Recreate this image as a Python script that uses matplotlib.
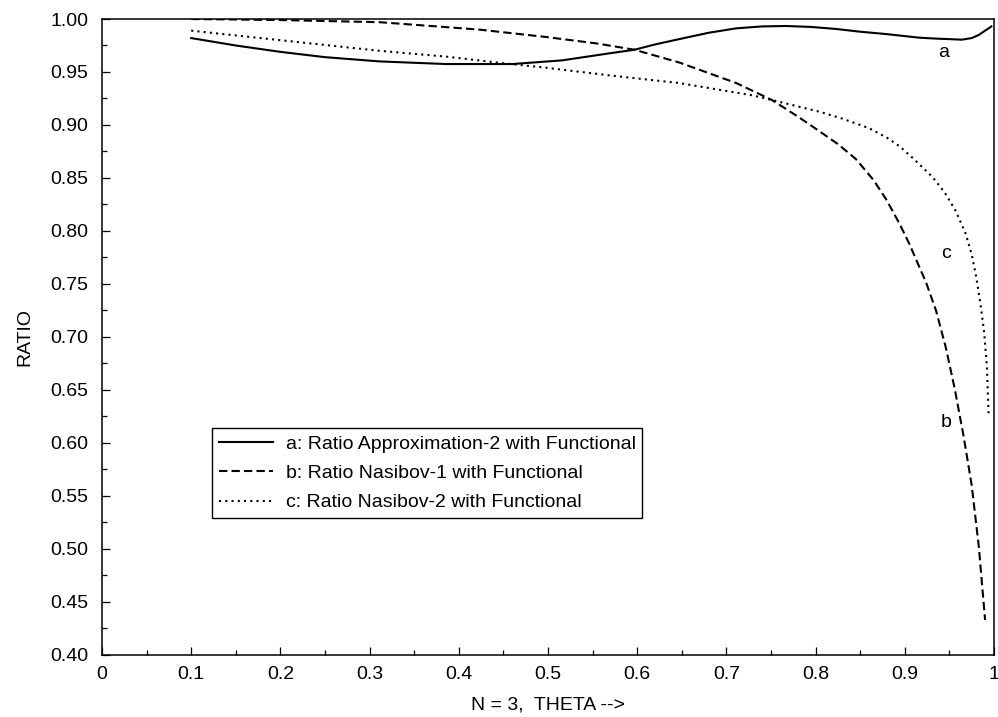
import numpy as np
from matplotlib import pyplot as plt
from matplotlib.ticker import MultipleLocator

plt.rcParams['font.family'] = ['Liberation Sans', 'DejaVu Sans']
plt.rcParams['font.size'] = 14

# curve a: Approximation-2 / Functional
a_x = [0.1, 0.15, 0.2, 0.25, 0.311, 0.386, 0.46, 0.516, 0.572, 0.597, 0.62, 0.647, 0.68,
       0.711, 0.74, 0.767, 0.795, 0.823, 0.85, 0.879, 0.916, 0.935, 0.95, 0.964, 0.975,
       0.983, 0.99, 0.995, 0.997]
a_y = [0.982, 0.975, 0.969, 0.964, 0.960, 0.9575, 0.9575, 0.961, 0.968, 0.971, 0.976, 0.981, 0.987,
       0.9912, 0.9930, 0.9934, 0.9925, 0.9906, 0.988, 0.9858, 0.9824, 0.9815, 0.981, 0.9805, 0.982,
       0.985, 0.989, 0.9918, 0.993]

# curve b: Nasibov-1 / Functional
b_x = [0.1, 0.2, 0.311, 0.423, 0.498, 0.554, 0.597, 0.647, 0.711, 0.751, 0.78, 0.801, 0.825,
       0.845, 0.865, 0.879, 0.894, 0.905, 0.924, 0.935, 0.946, 0.956, 0.966, 0.975, 0.983, 0.990]
b_y = [1.000, 0.999, 0.997, 0.990, 0.983, 0.977, 0.971, 0.959, 0.9396, 0.9236, 0.908, 0.896, 0.882,
       0.868, 0.848, 0.830, 0.807, 0.788, 0.751, 0.725, 0.690, 0.651, 0.606, 0.560, 0.502, 0.433]

# curve c: Nasibov-2 / Functional
c_x = [0.1, 0.2, 0.311, 0.386, 0.442, 0.498, 0.572, 0.647, 0.729, 0.751, 0.804, 0.83, 0.86,
       0.88, 0.894, 0.91, 0.931, 0.945, 0.957, 0.968, 0.975, 0.980, 0.985, 0.989, 0.992, 0.994]
c_y = [0.989, 0.980, 0.970, 0.9645, 0.959, 0.954, 0.9465, 0.9396, 0.928, 0.9236, 0.9126, 0.906, 0.897,
       0.888, 0.880, 0.868, 0.851, 0.836, 0.819, 0.798, 0.778, 0.757, 0.730, 0.704, 0.672, 0.626]

labels = ['a: Ratio Approximation-2 with Functional',
          'b: Ratio Nasibov-1 with Functional',
          'c: Ratio Nasibov-2 with Functional']

xticks = [0, 0.1, 0.2, 0.3, 0.4, 0.5, 0.6, 0.7, 0.8, 0.9, 1]
xtick_labels = ['0', '0.1', '0.2', '0.3', '0.4', '0.5', '0.6', '0.7', '0.8', '0.9', '1']
yticks = np.arange(0.40, 1.001, 0.05)

fig = plt.figure(figsize=(9.98, 7.17), dpi=100)
ax = fig.add_axes([0.1022, 0.0865, 0.8938, 0.887])

lw = 1.5
ax.plot(a_x, a_y, color='black', lw=lw, linestyle='-', label=labels[0])
ax.plot(b_x, b_y, color='black', lw=lw, linestyle=(0, (4, 2)), label=labels[1])
ax.plot(c_x, c_y, color='black', lw=lw, linestyle=(0, (1, 2)), label=labels[2])

ax.text(0.944, 0.968, 'a', ha='center', va='center')
ax.text(0.946, 0.779, 'c', ha='center', va='center')
ax.text(0.946, 0.619, 'b', ha='center', va='center')

ax.set_xlim(0, 1)
ax.set_ylim(0.40, 1.00)
ax.set_xticks(xticks)
ax.set_xticklabels(xtick_labels)
ax.set_yticks(yticks)
ax.set_yticklabels(['%.2f' % v for v in yticks])
ax.xaxis.set_minor_locator(MultipleLocator(0.05))
ax.yaxis.set_minor_locator(MultipleLocator(0.025))
ax.tick_params(which='major', direction='in', length=6, width=0.9, pad=8)
ax.tick_params(which='minor', direction='in', length=3.5, width=0.9)
ax.tick_params(axis='y', pad=10)
for s in ax.spines.values():
    s.set_linewidth(1.1)

ax.set_xlabel('N = 3,  THETA -->', labelpad=10)
ax.set_ylabel('RATIO', labelpad=12)

leg = ax.legend(loc='lower left', bbox_to_anchor=(0.123, 0.215), borderaxespad=0,
                fancybox=False, framealpha=1, edgecolor='black', handlelength=2.8,
                handletextpad=0.65, labelspacing=0.6, borderpad=0.35)
leg.get_frame().set_linewidth(1.0)

fig.savefig('out.png', dpi=100)
